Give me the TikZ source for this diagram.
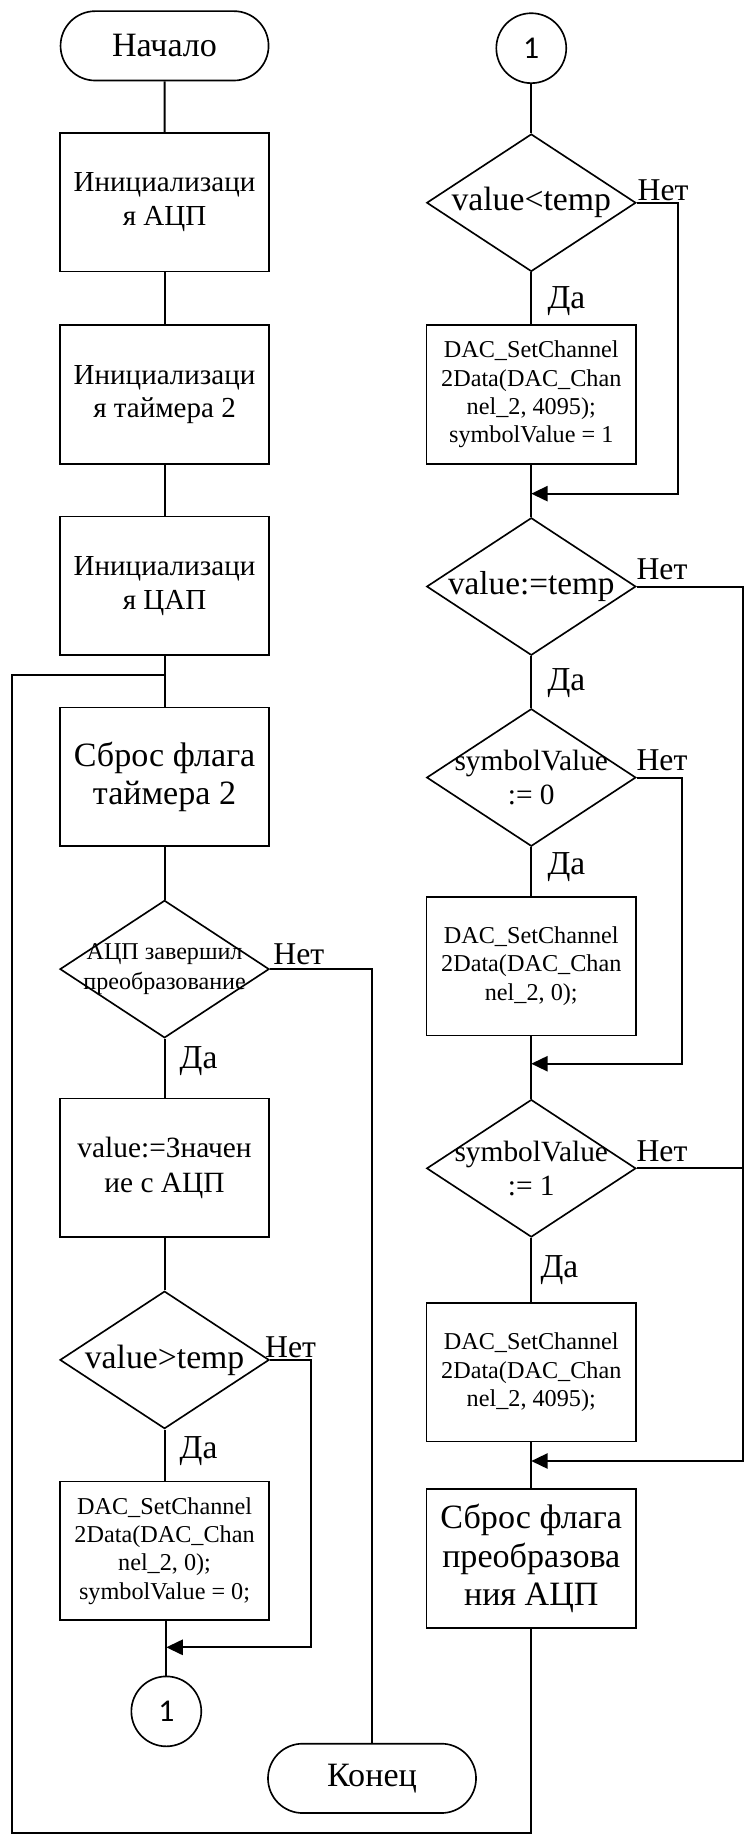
\documentclass[tikz,border=0pt]{standalone}
\usepackage{fontspec}
\setmainfont{Liberation Serif}
\newfontfamily\digitfont{Carlito}
\usetikzlibrary{shapes.geometric,shapes.misc,arrows.meta}

\begin{document}
\begin{tikzpicture}[x=1pt,y=-1pt,line width=1.7pt,
  fs/.style 2 args={font=\fontsize{#1}{#2}\selectfont},
  outline/.style={draw,line width=1.4pt,inner sep=0pt},
  proc/.style={outline,rectangle,align=center,minimum width=178pt,minimum height=118pt},
  term/.style={outline,rounded rectangle,align=center,minimum width=177pt,minimum height=59pt,fs={29}{33}},
  decision/.style={outline,diamond,minimum width=178pt,minimum height=117pt},
  dtext/.style={align=center,inner sep=0pt},
  codetext/.style={fs={20.6}{24}},
  link/.style={outline,circle,minimum size=59.5pt,font=\digitfont\fontsize{27}{27}\selectfont},
  yes/.style={fs={28.5}{30},inner sep=0pt,anchor=north west},
  no/.style={fs={27}{30},inner sep=0pt,anchor=south west},
  arr/.style={-{Triangle[length=14pt,width=13pt]}}
]
\useasboundingbox (0,0) rectangle (637,1568);

% ---- left column ----
\node[term] (start) at (140,39) {Начало};
\node[proc,fs={24.7}{28.5}] (b1) at (140,172) {Инициализаци\\я АЦП};
\node[proc,fs={24.7}{28.5}] (b2) at (140,335.5) {Инициализаци\\я таймера 2};
\node[proc,fs={24.7}{28.5}] (b3) at (140,498.5) {Инициализаци\\я ЦАП};
\coordinate (j0) at (140,574);
\node[proc,fs={29}{32}] (b4) at (140,661) {Сброс флага\\таймера 2};
\node[decision] (d1) at (140,824.5) {};
\node[dtext,fs={20.5}{26}] (d1t) at (d1.center) {АЦП завершил\\преобразование};
\node[proc,fs={25}{29.3}] (b5) at (140,993.5) {value:=Значен\\ие с АЦП};
\node[decision] (d2) at (140,1157) {};
\node[dtext,fs={28.7}{30}] (d2t) at (d2.center) {value>temp};
\node[proc,codetext] (b6) at (140,1319.5) {DAC\_SetChannel\\2Data(DAC\_Chan\\nel\_2, 0);\\symbolValue = 0;};
\coordinate (m0) at (141.5,1401.5);
\node[link] (c1) at (141.5,1456) {1};
\node[term] (stop) at (316.5,1513) {Конец};

% ---- right column ----
\node[link] (c2) at (452,41) {1};
\node[decision] (d3) at (452,172.5) {};
\node[dtext,fs={28.7}{30}] (d3t) at (d3.center) {value<temp};
\node[proc,codetext] (b7) at (452,335.5) {DAC\_SetChannel\\2Data(DAC\_Chan\\nel\_2, 4095);\\symbolValue = 1};
\coordinate (m1) at (452,420);
\node[decision] (d4) at (452,499) {};
\node[dtext,fs={28.3}{30}] (d4t) at (d4.center) {value:=temp};
\node[decision] (d5) at (452,661.5) {};
\node[dtext,fs={25}{29.3}] (d5t) at (d5.center) {symbolValue\\:= 0};
\node[proc,codetext] (b8) at (452,822) {DAC\_SetChannel\\2Data(DAC\_Chan\\nel\_2, 0);};
\coordinate (m2) at (452,905);
\node[decision] (d6) at (452,994) {};
\node[dtext,fs={25}{29.3}] (d6t) at (d6.center) {symbolValue\\:= 1};
\node[proc,codetext] (b9) at (452,1167.5) {DAC\_SetChannel\\2Data(DAC\_Chan\\nel\_2, 4095);};
\coordinate (m3) at (452,1243);
\node[proc,fs={29}{32.5}] (b10) at (452,1326) {Сброс флага\\преобразова\\ния АЦП};

% bend points of the side branches
\coordinate (k0) at (265,1157);
\coordinate (k1) at (577,172.5);
\coordinate (k2) at (632,499);
\coordinate (k3) at (580,661.5);
\coordinate (lb) at (10,1559.5);

% ---- main flow ----
\draw (start) -- (b1);
\draw (b1) -- (b2);
\draw (b2) -- (b3);
\draw (b3) -- (b4);
\draw (b4) -- (d1);
\draw (d1) -- (b5);
\draw (b5) -- (d2);
\draw (d2) -- (b6);
\draw (c1.north) -- (c1.north |- b6.south);
\draw (d1.east) -| (stop.north);
\draw[arr] (d2.east) -- (k0) |- (m0);

\draw (c2) -- (d3);
\draw (d3) -- (b7);
\draw (b7) -- (d4);
\draw (d4) -- (d5);
\draw (d5) -- (b8);
\draw (b8) -- (d6);
\draw (d6) -- (b9);
\draw (b9) -- (b10);
\draw[arr] (d3.east) -- (k1) |- (m1);
\draw[arr] (d4.east) -- (k2) |- (m3);
\draw[arr] (d5.east) -- (k3) |- (m2);
\draw (d6.east) -- (d6.east -| k2);

% loop back to the timer flag reset
\draw (b10.south) |- (lb) |- (j0);

% ---- branch labels ----
\node[no] (n1) at ([xshift=2pt,yshift=3pt]d1.east) {Нет};
\node[no] (n2) at ([xshift=-5pt,yshift=1pt]d2.east) {Нет};
\node[no] (n3) at ([xshift=0pt,yshift=1pt]d3.east) {Нет};
\node[no] (n4) at ([xshift=-1pt,yshift=5pt]d4.east) {Нет};
\node[no] (n5) at ([xshift=-1pt,yshift=5pt]d5.east) {Нет};
\node[no] (n6) at ([xshift=-1pt,yshift=5pt]d6.east) {Нет};

\node[yes] (y1) at ([xshift=12pt,yshift=-6pt]d1.south) {Да};
\node[yes] (y2) at ([xshift=12pt,yshift=-5pt]d2.south) {Да};
\node[yes] (y3) at ([xshift=13pt,yshift=-11pt]d3.south) {Да};
\node[yes] (y4) at ([xshift=13pt,yshift=-10pt]d4.south) {Да};
\node[yes] (y5) at ([xshift=13pt,yshift=-4pt]d5.south) {Да};
\node[yes] (y6) at ([xshift=7pt,yshift=-14pt]d6.south) {Да};
\end{tikzpicture}
\end{document}
